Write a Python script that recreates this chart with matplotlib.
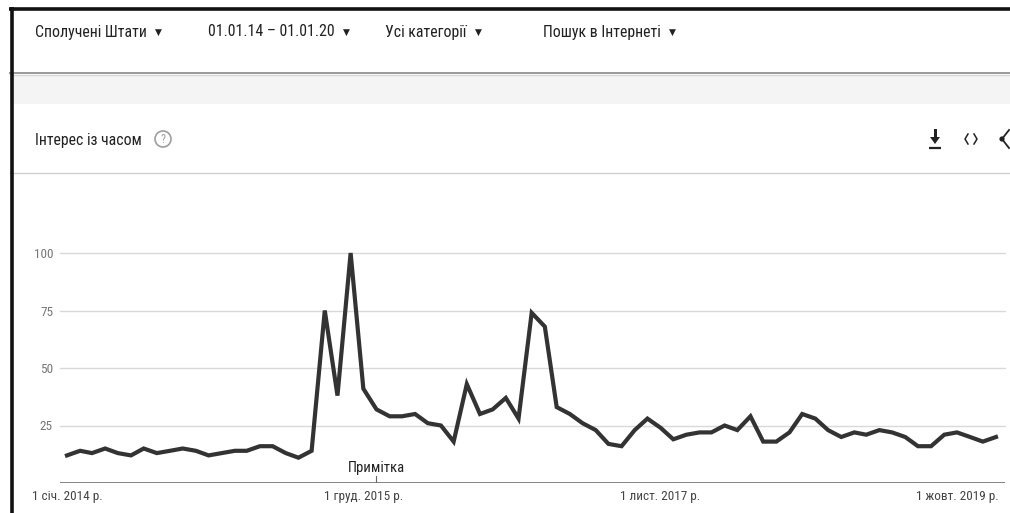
import numpy as np
import pandas as pd
import matplotlib
matplotlib.use("Agg")
import matplotlib.pyplot as plt
from matplotlib.patches import Rectangle, Circle, Polygon

plt.rcParams['font.family'] = ['Roboto Condensed', 'Liberation Sans Narrow',
                               'DejaVu Sans Condensed', 'DejaVu Sans']

# monthly interest values, Jan 2014 .. Jan 2020
months = pd.date_range('2014-01-01', periods=73, freq='MS')
interest = [12, 14, 13, 15, 13, 12, 15, 13, 14, 15, 14, 12, 13, 14, 14, 16, 16, 13, 11, 14,
            75, 38, 100, 41, 32, 29, 29, 30, 26, 25, 18, 43, 30, 32, 37, 28, 74, 68, 33, 30,
            26, 23, 17, 16, 23, 28, 24, 19, 21, 22, 22, 25, 23, 29, 18, 18, 22, 30, 28, 23,
            20, 22, 21, 23, 22, 20, 16, 16, 21, 22, 20, 18, 20]

yticks = [25, 50, 75, 100]
xtick_dates = pd.to_datetime(['2014-01-01', '2015-12-01', '2017-11-01', '2019-10-01'])
xtick_labels = ['1 січ. 2014 р.', '1 груд. 2015 р.', '1 лист. 2017 р.', '1 жовт. 2019 р.']
note_date = pd.Timestamp('2016-01-01')
note_text = 'Примітка'

header_items = [('Сполучені Штати', 35), ('01.01.14 – 01.01.20', 208),
                ('Усі категорії', 385), ('Пошук в Інтернеті', 543)]
panel_title = 'Інтерес із часом'

W, H = 1010, 513
fig = plt.figure(figsize=(W / 100, H / 100), dpi=100)

# page layer in pixel coordinates (y grows downward)
page = fig.add_axes([0, 0, 1, 1])
page.set_xlim(0, W)
page.set_ylim(H, 0)
page.axis('off')

# header bar, shadow and grey spacer
page.add_patch(Rectangle((10, 75), W, 29, color='#f4f4f4', lw=0))
page.plot([10, W], [72.5, 72.5], color='#9a9a9a', lw=1.4)
page.plot([10, W], [74.5, 74.5], color='#d6d6d6', lw=1.0)
page.plot([10, W], [173, 173], color='#cfcfcf', lw=1.0)

# outer black frame (top and left)
page.plot([9, W], [8.5, 8.5], color='#111111', lw=2.6, solid_capstyle='butt')
page.plot([11.5, 11.5], [7, H], color='#111111', lw=2.6, solid_capstyle='butt')

fig.canvas.draw()
for label, x in header_items:
    t = page.text(x, 32, label, fontsize=11.4, color='#222222', va='center', ha='left')
    bb = t.get_window_extent(renderer=fig.canvas.get_renderer())
    page.text(bb.x1 + 8, 32, '▼', fontsize=6.5, color='#222222', va='center', ha='left',
              family='DejaVu Sans')

page.text(35, 140, panel_title, fontsize=11.3, color='#222222', va='center', ha='left')
page.add_patch(Circle((163, 139), 8, fill=False, ec='#9e9e9e', lw=1.2))
page.text(163, 139.5, '?', fontsize=8.5, color='#9e9e9e', ha='center', va='center')

# download icon
page.add_patch(Polygon([[930, 137], [940, 137], [935, 144]], closed=True, color='#222222', lw=0))
page.add_patch(Rectangle((933.5, 129), 3, 9, color='#222222', lw=0))
page.plot([929, 941], [148, 148], color='#222222', lw=1.6, solid_capstyle='butt')
# embed icon
page.plot([968, 965, 968], [134, 139, 144], color='#222222', lw=1.1)
page.plot([974, 977, 974], [134, 139, 144], color='#222222', lw=1.1)
# share icon (cut at the edge)
page.plot([1009, 1002, 1009], [130, 139, 148], color='#222222', lw=1.3)
page.add_patch(Circle((1002, 139), 2.6, color='#222222', lw=0))

# chart area
x0, x1 = 60, 1005
y_top, y_bot = 253, 483
ax = fig.add_axes([x0 / W, 1 - y_bot / H, (x1 - x0) / W, (y_bot - y_top) / H])
ax.patch.set_alpha(0)
step = (months[-1] - months[0]) / 72
ax.set_xlim(months[0] - step * 0.54, months[-1] + step * 0.7)
ax.set_ylim(0, 100)

for v in yticks:
    ax.axhline(v, color='#d9d9d9', lw=1.0, zorder=1, clip_on=False)
ax.axhline(0, color='#7a7a7a', lw=1.3, zorder=1)

ax.plot(months, interest, color='#333333', lw=3.0, zorder=3, clip_on=False,
        solid_joinstyle='miter')

for s in ax.spines.values():
    s.set_visible(False)
ax.set_yticks(yticks)
ax.set_yticklabels([str(v) for v in yticks])
ax.tick_params(axis='y', length=0, pad=5, labelsize=9.5, labelcolor='#777777')
ax.set_xticks(xtick_dates)
ax.set_xticklabels(xtick_labels)
ax.tick_params(axis='x', length=0, pad=5, labelsize=9.5, labelcolor='#444444')

# annotation marker
ax.plot([note_date, note_date], [0, 3], color='#666666', lw=0.8, zorder=2)
ax.text(note_date, 3.5, note_text, fontsize=10.5, color='#222222', ha='center', va='bottom')

fig.savefig('out.png', dpi=100)
